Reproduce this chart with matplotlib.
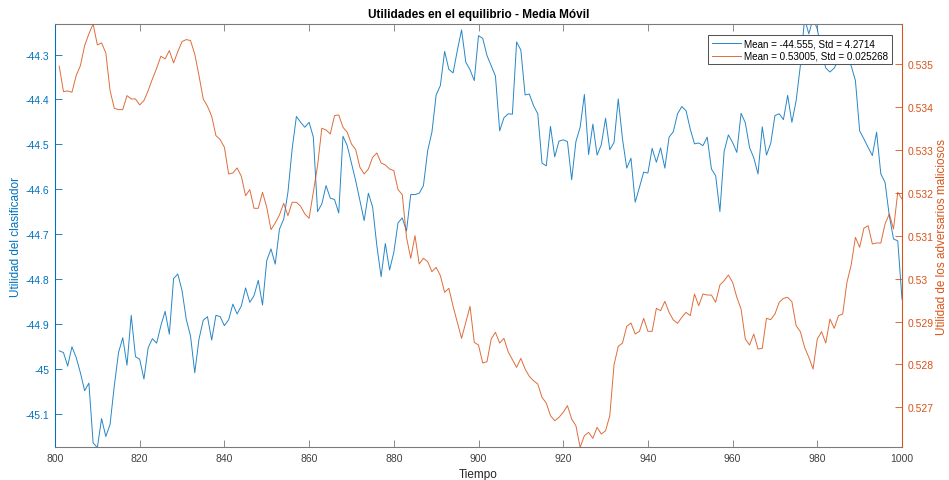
import matplotlib
matplotlib.use('Agg')
import matplotlib.pyplot as plt
from matplotlib.ticker import FuncFormatter
import numpy as np

plt.rcParams['font.family'] = ['Liberation Sans', 'DejaVu Sans']

# media móvil, ventana 801-1000
tiempo = np.arange(801, 1001)

util_clasificador = [
    -44.960, -44.964, -44.994, -44.951, -44.975, -45.009, -45.049, -45.032, -45.165, -45.176,
    -45.111, -45.151, -45.124, -45.038, -44.964, -44.931, -44.992, -44.881, -44.973, -44.979,
    -45.023, -44.953, -44.933, -44.943, -44.904, -44.872, -44.923, -44.799, -44.789, -44.826,
    -44.890, -44.927, -45.009,
    -44.934, -44.892, -44.884, -44.936, -44.881, -44.884, -44.904, -44.891, -44.856, -44.878,
    -44.860, -44.820, -44.852, -44.837, -44.803, -44.858, -44.759, -44.733, -44.767, -44.689,
    -44.667, -44.607, -44.510, -44.438, -44.451, -44.462, -44.451, -44.484, -44.650, -44.633,
    -44.592, -44.620, -44.623,
    -44.653, -44.482, -44.503, -44.542, -44.581, -44.626, -44.670, -44.609, -44.640, -44.726,
    -44.795, -44.721, -44.780, -44.741, -44.675, -44.664, -44.693, -44.612, -44.612, -44.609,
    -44.592, -44.514, -44.473, -44.390, -44.369, -44.293, -44.333, -44.341, -44.291, -44.245,
    -44.317, -44.334, -44.358,
    -44.258, -44.264, -44.302, -44.325, -44.348, -44.470, -44.441, -44.432, -44.433, -44.272,
    -44.290, -44.390, -44.388, -44.414, -44.432, -44.542, -44.548, -44.460, -44.528, -44.493,
    -44.490, -44.494, -44.579, -44.494, -44.462, -44.389, -44.523, -44.455, -44.524, -44.501,
    -44.442, -44.512, -44.496,
    -44.399, -44.488, -44.553, -44.531, -44.629, -44.596, -44.562, -44.564, -44.509, -44.540,
    -44.508, -44.553, -44.484, -44.472, -44.432, -44.416, -44.425, -44.466, -44.499, -44.497,
    -44.503, -44.484, -44.555, -44.570, -44.650, -44.516, -44.479, -44.496, -44.518, -44.431,
    -44.452, -44.507, -44.530,
    -44.566, -44.461, -44.524, -44.498, -44.436, -44.432, -44.445, -44.391, -44.451, -44.403,
    -44.325, -44.220, -44.254, -44.220, -44.243, -44.295, -44.330, -44.339, -44.330, -44.313,
    -44.302, -44.310, -44.325, -44.358, -44.470, -44.488, -44.507, -44.525, -44.473, -44.566,
    -44.585, -44.659, -44.711, -44.715, -44.845,
]

util_adversarios = [
    0.534946, 0.534355, 0.534371, 0.534340, 0.534728, 0.534961, 0.535427, 0.535699, 0.535932, 0.535443,
    0.535489, 0.535256, 0.534379, 0.533967, 0.533936, 0.533936, 0.534262, 0.534184, 0.534184, 0.534045,
    0.534146, 0.534379, 0.534650, 0.534899, 0.535179, 0.535117, 0.535311, 0.535023, 0.535287, 0.535520,
    0.535567, 0.535544, 0.535230,
    0.534728, 0.534184, 0.534014, 0.533781, 0.533330, 0.533237, 0.533058, 0.532437, 0.532460, 0.532577,
    0.532383, 0.531932, 0.532072, 0.531637, 0.531637, 0.532010, 0.531660, 0.531140, 0.531295, 0.531482,
    0.531753, 0.531466, 0.531777, 0.531777, 0.531684, 0.531505, 0.531404, 0.532010, 0.532631, 0.533501,
    0.533462, 0.533369, 0.533796,
    0.533812, 0.533524, 0.533408, 0.533136, 0.533004, 0.532592, 0.532437, 0.532553, 0.532825, 0.532926,
    0.532693, 0.532647, 0.532553, 0.532515, 0.532072, 0.531955, 0.530961, 0.530472, 0.531000, 0.530340,
    0.530472, 0.530394, 0.530161, 0.530262, 0.530068, 0.529680, 0.529773, 0.529353, 0.528981, 0.528608,
    0.528981, 0.529353, 0.528515,
    0.528452, 0.528033, 0.528064, 0.528592, 0.528748, 0.528499, 0.528608, 0.528297, 0.528111, 0.527932,
    0.528142, 0.527893, 0.527722, 0.527621, 0.527544, 0.527233, 0.527101, 0.526806, 0.526689, 0.526767,
    0.526883, 0.527039, 0.526728, 0.526573, 0.526068, 0.526340, 0.526418, 0.526278, 0.526534, 0.526379,
    0.526456, 0.526806, 0.527990,
    0.528421, 0.528499, 0.528887, 0.528965, 0.528709, 0.528771, 0.529074, 0.528771, 0.528771, 0.529307,
    0.529252, 0.529470, 0.529214, 0.529035, 0.528957, 0.529097, 0.529214, 0.529136, 0.529641, 0.529369,
    0.529641, 0.529617, 0.529617, 0.529447, 0.529850, 0.529951, 0.530083, 0.529913, 0.529563, 0.529291,
    0.528592, 0.528452, 0.528709,
    0.528359, 0.528375, 0.529074, 0.529043, 0.529175, 0.529447, 0.529540, 0.529563, 0.529462, 0.528903,
    0.528763, 0.528398, 0.528165, 0.527893, 0.528592, 0.528763, 0.528499, 0.529058, 0.528841, 0.529136,
    0.529175, 0.529913, 0.530317, 0.530961, 0.530728, 0.531171, 0.531233, 0.530806, 0.530829, 0.530829,
    0.531272, 0.531505, 0.531155, 0.532010, 0.531854,
]

etiquetas = ['Mean = -44.555, Std = 4.2714', 'Mean = 0.53005, Std = 0.025268']

xticks = np.arange(800, 1001, 20)
yticks_izq = np.round(np.arange(-45.1, -44.25, 0.1), 1)
yticks_der = np.round(np.arange(0.527, 0.5355, 0.001), 3)

azul = '#0072BD'
naranja = '#D95319'
gris = '#262626'
fmt = FuncFormatter(lambda v, p: f'{v:g}')

fig = plt.figure(figsize=(9.49, 4.81), dpi=100)
ax1 = fig.add_axes([55 / 949, 1 - 448.3 / 481, 847 / 949, 423.3 / 481])
ax2 = ax1.twinx()

l1, = ax1.plot(tiempo, util_clasificador, color=azul, lw=0.7, alpha=0.85)
l2, = ax2.plot(tiempo, util_adversarios, color=naranja, lw=0.7, alpha=0.85)

ax1.set_xlim(800, 1000)
ax1.set_xticks(xticks)
ax1.set_ylim(-45.175, -44.232)
ax1.set_yticks(yticks_izq)
ax1.yaxis.set_major_formatter(fmt)
ax2.set_ylim(0.52607, 0.53593)
ax2.set_yticks(yticks_der)
ax2.yaxis.set_major_formatter(fmt)

for ax in (ax1, ax2):
    ax.spines['top'].set_color('#7a7a7a')
    ax.spines['bottom'].set_color('#7a7a7a')
    ax.spines['left'].set_color(azul)
    ax.spines['right'].set_color(naranja)
    for s in ax.spines.values():
        s.set_linewidth(0.75)

ax1.tick_params(axis='x', direction='in', top=True, length=5, width=0.6,
                colors='#7a7a7a', labelcolor='#404040', labelsize=7.5, pad=4)
ax1.tick_params(axis='y', direction='in', length=5, width=0.6,
                colors=azul, labelsize=7.5, pad=4)
ax2.tick_params(axis='y', direction='in', length=5, width=0.6,
                colors=naranja, labelsize=7.5, pad=4)

ax1.set_xlabel('Tiempo', fontsize=8.5, color=gris, labelpad=4)
ax1.set_ylabel('Utilidad del clasificador', fontsize=8.5, color=azul, labelpad=3)
ax2.set_ylabel('Utilidad de los adversarios maliciosos', fontsize=8.5, color=naranja, labelpad=2)
ax1.set_title('Utilidades en el equilibrio - Media Móvil', fontsize=8.5,
              fontweight='bold', color='black', pad=5)

leg = ax2.legend([l1, l2], etiquetas, loc='upper right', bbox_to_anchor=(0.988, 0.975),
                 borderaxespad=0, fontsize=7.1, fancybox=False, framealpha=1,
                 edgecolor='#555555', handlelength=3.0, handletextpad=0.3,
                 borderpad=0.35, labelspacing=0.3)
leg.get_frame().set_linewidth(0.75)

fig.savefig('out.png', dpi=100, facecolor='white')
